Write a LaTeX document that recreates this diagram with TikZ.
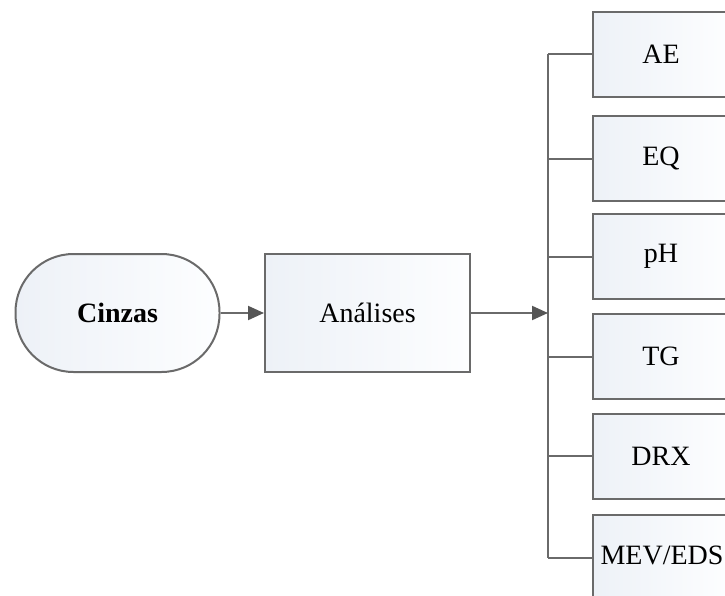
\documentclass[tikz,border=0pt]{standalone}
\usepackage{fontspec}
\setmainfont{Liberation Serif}
\usetikzlibrary{arrows.meta}
\definecolor{edge}{HTML}{6A6A6A}
\definecolor{tipc}{HTML}{555555}
\definecolor{fillL}{HTML}{EDF1F7}
\definecolor{fillR}{HTML}{FDFEFF}
\tikzset{
  boxbase/.style={draw=edge, line width=2pt, left color=fillL, right color=fillR,
    inner sep=0pt, font=\fontsize{28}{30}\selectfont},
  termbox/.style={boxbase, minimum width=204pt, minimum height=118pt, rounded corners=58pt,
    font=\bfseries\fontsize{28}{30}\selectfont},
  procbox/.style={boxbase, minimum width=205pt, minimum height=118pt},
  itembox/.style={boxbase, minimum width=136pt, minimum height=85pt},
  link/.style={draw=edge, line width=2pt},
  flow/.style={link, -{Triangle[length=16pt,width=14pt,color=tipc]}}
}
\begin{document}
\begin{tikzpicture}[x=1pt,y=-1pt]
\useasboundingbox (0,0) rectangle (725,596);
% main flow
\node[termbox] (cinzas) at (117.5,313) {Cinzas};
\node[procbox] (analises) at (367.5,313) {Análises};
% list of analyses
\node[itembox] (ae)  at (661,54.5)  {AE};
\node[itembox] (eq)  at (661,159)   {EQ};
\node[itembox] (ph)  at (661,256.5) {pH};
\node[itembox] (tg)  at (661,356.5) {TG};
\node[itembox] (drx) at (661,456)   {DRX};
\node[itembox] (mev) at (661,557.5) {};
\node[font=\fontsize{28}{30}\selectfont, inner sep=0pt] (mevt) at (662,555) {MEV/EDS};
% bus
\coordinate (bt) at (548,54.5);
\coordinate (bb) at (548,557.5);
\coordinate (bm) at (548,313);
\draw[link] (bt) -- (bb);
\foreach \n in {ae,eq,ph,tg,drx,mev}
  \draw[link] (bt |- \n.west) -- (\n.west);
% arrows
\draw[flow] (cinzas.east) -- (analises.west);
\draw[flow] (analises.east) -- (bm);
\end{tikzpicture}
\end{document}
